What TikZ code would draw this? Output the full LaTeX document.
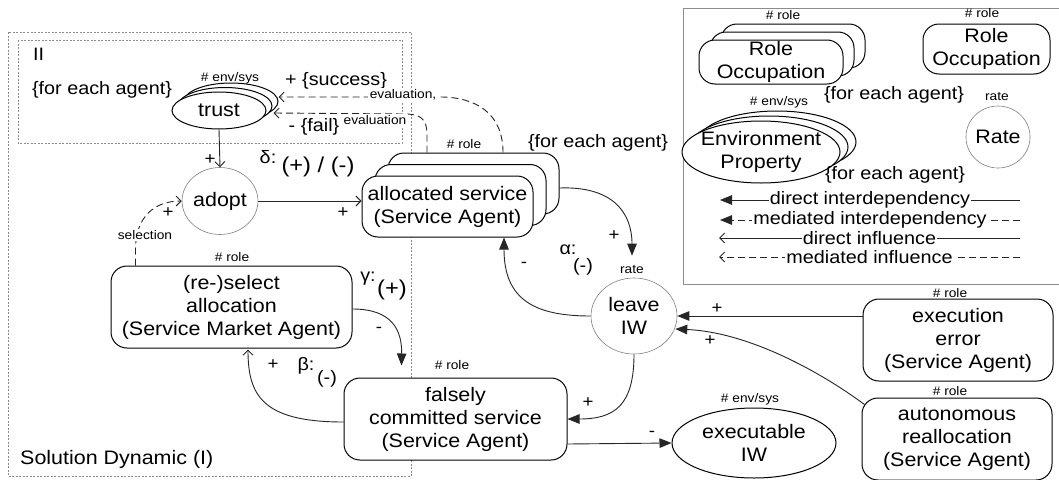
\documentclass[tikz,border=0pt]{standalone}
\usepackage{fontspec}
\setmainfont{Liberation Sans}[FakeStretch=1.1]
\usetikzlibrary{arrows.meta,shapes.geometric,calc}

\definecolor{framegray}{gray}{0.55}
\definecolor{ringgray}{gray}{0.5}
\definecolor{linedark}{gray}{0.15}

\begin{document}
\begin{tikzpicture}[x=1pt,y=-1pt,
  big/.style={font=\fontsize{19.5}{23}\selectfont},
  mid/.style={font=\fontsize{18}{21}\selectfont},
  large/.style={font=\fontsize{21.5}{25}\selectfont},
  small/.style={font=\fontsize{12.5}{14}\selectfont},
  sign/.style={font=\fontsize{17}{20}\selectfont},
  lab/.style={inner sep=0pt},
  frame/.style={draw=framegray, line width=0.6pt, dash pattern=on 2pt off 1.5pt},
  rolebox/.style={draw, line width=1pt, rounded corners=16pt, fill=white,
    align=center, inner sep=0pt, big},
  envp/.style={draw, ellipse, line width=1pt, fill=white, align=center,
    inner sep=0pt, big},
  ratec/.style={draw=ringgray, ellipse, line width=0.6pt, fill=white,
    align=center, inner sep=0pt, big},
  dint/.style={line width=0.9pt, draw=linedark,
    -{Triangle[length=12pt,width=9.5pt]}},
  dinf/.style={line width=0.9pt, draw=linedark,
    -{Straight Barb[length=5pt,width=10pt]}},
  minf/.style={dinf, dash pattern=on 7pt off 4pt},
  mint/.style={dint, dash pattern=on 7pt off 4pt},
  cover/.style={fill=white, inner sep=1.5pt},
]
\useasboundingbox (0,0) rectangle (1059,479);
\fill[white] (0,0) rectangle (1059,479);

% ---------- dashed frames of the solution dynamic ----------
\draw[frame] (8,32) rectangle (411,476);
\draw[frame] (18,40) rectangle (402,143);
\node[mid, lab, anchor=west] (tII) at (33,54) {II};
\node[mid, lab] (feaII) at (102,90) {\{for each agent\}};
\node[big, lab, anchor=west] (tSol) at (20,459) {Solution Dynamic (I)};

% ---------- trust (stacked environment property) ----------
\node[envp, minimum width=94pt, minimum height=37pt] (trustB2) at (231,101.5) {};
\node[envp, minimum width=94pt, minimum height=37pt] (trustB1) at (225,106) {};
\node[envp, minimum width=94pt, minimum height=37pt] (trust) at (219,110.5) {trust};
\node[small, lab] (trustTag) at (230,78) {\# env/sys};
\node[mid, lab] (tSucc) at (336,81) {+ \{success\}};
\node[mid, lab] (tFail) at (314,127) {- \{fail\}};

% ---------- adopt ----------
\node[ratec, minimum width=75pt, minimum height=67pt] (adopt) at (220,201) {adopt};

% ---------- allocated service (stacked role occupation) ----------
\node[rolebox, minimum width=171pt, minimum height=61pt] (allocB2) at (473.5,183.5) {};
\node[rolebox, minimum width=171pt, minimum height=61pt] (allocB1) at (460.5,195) {};
\node[rolebox, minimum width=171pt, minimum height=61pt] (alloc) at (447.5,206.5)
  {allocated service\\(Service Agent)};
\node[small, lab] (allocTag) at (464,144) {\# role};
\node[mid, lab] (allocEach) at (598,143) {\{for each agent\}};

% ---------- leave IW ----------
\node[ratec, minimum width=86pt, minimum height=76pt] (leave) at (634,316) {leave\\IW};
\node[small, lab] (leaveTag) at (632,270) {rate};

% ---------- (re-)select allocation ----------
\node[rolebox, minimum width=241pt, minimum height=82pt] (resel) at (231.5,307)
  {(re-)select\\allocation\\(Service Market Agent)};
\node[small, lab] (reselTag) at (232,257) {\# role};

% ---------- falsely committed service ----------
\node[rolebox, minimum width=223pt, minimum height=82pt] (falsely) at (455.5,419)
  {falsely\\committed service\\(Service Agent)};
\node[small, lab] (falselyTag) at (452,365) {\# role};

% ---------- executable IW ----------
\node[envp, minimum width=164pt, minimum height=70pt] (exec) at (754,443) {executable\\IW};
\node[small, lab] (execTag) at (750,399) {\# env/sys};

% ---------- execution error / autonomous reallocation ----------
\node[rolebox, minimum width=190pt, minimum height=82pt] (err) at (958,340)
  {execution\\error\\(Service Agent)};
\node[small, lab] (errTag) at (950,293) {\# role};
\node[rolebox, minimum width=190pt, minimum height=82pt] (auton) at (957,439)
  {autonomous\\reallocation\\(Service Agent)};
\node[small, lab] (autonTag) at (950,391) {\# role};

% ---------- connectors ----------
% trust -> adopt
\draw[dinf] (trust.south) -- (adopt.north);
\node[sign, lab] (sTA) at (210,160) {+};

% adopt -> allocated service
\draw[dinf] (adopt.east) -- (adopt.east -| alloc.west);
\node[sign, lab] (sAA) at (343,213) {+};
\node[mid, lab] (tDelta) at (268,157) {δ:};
\node[large, lab] (tDeltaV) at (318,167) {(+) / (-)};

% selection: (re-)select -> adopt
\draw[minf] ($(resel.north west)+(25,0)$) -- ++(0,-16)
  .. controls ++(0,-32) and ($(adopt.west)+(-28,0)$) .. (adopt.west);
\node[small, cover] (tSel) at (145,235) {selection};
\node[sign, lab] (sSel) at (168,213) {+};

% evaluation (success): allocated service -> trust
\draw[minf] ($(allocB2.north)+(29.5,0)$)
  .. controls ($(allocB2.north)+(29.5,-40)$) and (475,97) .. (440,97)
  -- ($(trustB2.east)+(0,-4.5)$);
\node[small, cover] (tEvalS) at (403,95) {evaluation,};

% evaluation (fail): allocated service -> trust
\draw[minf] ($(allocB2.north)+(-46.5,0)$) -- ++(0,-18)
  .. controls ++(0,-16) and (420,114) .. (405,114)
  -- ($(trustB1.east)+(1,7)$);
\node[small, cover] (tEvalF) at (375,120) {evaluation};

% allocated service -> leave IW
\draw[dint] ($(allocB2.east)+(0,4.5)$)
  .. controls (612,186) and (632,212) .. ($(leave.north)+(-2,-22)$);
\node[sign, lab] (sAL) at (614,236) {+};
\node[mid, lab] (tAlpha) at (568,250) {α:};
\node[mid, lab] (tAlphaV) at (583,267) {(-)};

% leave IW -> allocated service
\draw[dint] (leave.west)
  .. controls (535,316) and (504,300) .. ($(alloc.south)+(56.5,0)$);
\node[sign, lab] (sLA) at (524,265) {-};

% (re-)select -> falsely committed
\draw[dint] ($(resel.east)+(0,2)$)
  .. controls (392,309) and (402,330) .. ($(falsely.north west)+(58,-12)$);
\node[sign, lab] (sRF) at (379,330) {-};
\node[mid, lab] (tGamma) at (368,279) {γ:};
\node[large, lab] (tGammaV) at (392,290) {(+)};

% leave IW -> falsely committed
\draw[dint] (leave.south)
  .. controls (634,405) and (615,419) .. (falsely.east);
\node[sign, lab] (sLF) at (588,403) {+};

% falsely committed -> (re-)select
\draw[dinf] ($(falsely.west)+(0,3)$)
  .. controls (262,422) and (248,395) .. ($(resel.south)+(16.5,1)$);
\node[sign, lab] (sFR) at (273,365) {+};
\node[mid, lab] (tBeta) at (306,366) {β:};
\node[mid, lab] (tBetaV) at (327,379) {(-)};

% falsely committed -> executable IW
\draw[dint] ($(falsely.east)+(0,25)$) -- (exec.west);
\node[sign, lab] (sFE) at (652,434) {-};

% execution error -> leave IW
\draw[dint] (err.west |- leave.east) -- (leave.east);
\node[sign, lab] (sEL) at (717,309) {+};

% autonomous reallocation -> leave IW
\draw[dint] ($(auton.north west)+(3,7)$)
  .. controls (815,368) and (745,332) .. ($(leave.east)+(-2,13)$);
\node[sign, lab] (sRL) at (710,341) {+};

% ---------- legend ----------
\draw[draw=framegray, line width=0.8pt] (683,8) rectangle (1064,284);

\node[rolebox, minimum width=144pt, minimum height=44pt] (legRoleB2) at (793,46) {};
\node[rolebox, minimum width=144pt, minimum height=44pt] (legRoleB1) at (782,54) {};
\node[rolebox, minimum width=144pt, minimum height=44pt] (legRole) at (771,62)
  {Role\\Occupation};
\node[small, lab] (legRoleTag) at (783,15) {\# role};
\node[mid, lab] (legRoleEach) at (894,95) {\{for each agent\}};

\node[rolebox, minimum width=127pt, minimum height=50pt] (legRoleS) at (986.5,49)
  {Role\\Occupation};
\node[small, lab] (legRoleSTag) at (982,13) {\# role};

\node[ratec, minimum width=64pt, minimum height=62pt] (legRate) at (998,137) {Rate};
\node[small, lab] (legRateTag) at (997,97) {rate};

\node[envp, minimum width=158pt, minimum height=62pt] (legEnvB2) at (777,142) {};
\node[envp, minimum width=158pt, minimum height=62pt] (legEnvB1) at (769,147) {};
\node[envp, minimum width=158pt, minimum height=62pt, inner xsep=-7pt, inner ysep=-2pt]
  (legEnv) at (761,152) {Environment\\Property};
\node[small, lab] (legEnvTag) at (779,102) {\# env/sys};
\node[mid, lab] (legEnvEach) at (895,175) {\{for each agent\}};

\coordinate (k1r) at (1020,200); \coordinate (k1l) at (720,200);
\coordinate (k2r) at (1020,220); \coordinate (k2l) at (720,220);
\coordinate (k3r) at (1020,238); \coordinate (k3l) at (719,238);
\coordinate (k4r) at (1020,257); \coordinate (k4l) at (719,257);
\draw[dint] (k1r) -- node[mid, cover, inner xsep=1pt] (k1t) {direct interdependency} (k1l);
\draw[mint] (k2r) -- node[mid, cover, inner xsep=1pt] (k2t) {mediated interdependency} (k2l);
\draw[dinf] (k3r) -- node[mid, cover, inner xsep=1pt] (k3t) {direct influence} (k3l);
\draw[minf] (k4r) -- node[mid, cover, inner xsep=1pt] (k4t) {mediated influence} (k4l);
\end{tikzpicture}
\end{document}
